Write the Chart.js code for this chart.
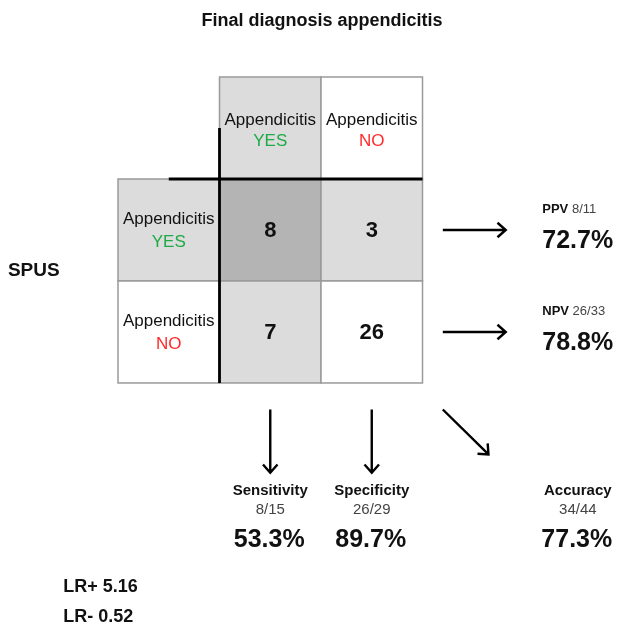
<!DOCTYPE html>
<html>
<head>
<meta charset="utf-8">
<script src="https://cdn.jsdelivr.net/npm/chart.js@4/dist/chart.umd.min.js"></script>
<style>
  body { margin: 0; background: #fff; }
  #box { width: 618px; height: 625px; }
</style>
</head>
<body>
<div id="box"><canvas id="myChart" width="618" height="625"></canvas></div>
<script>
// DATA
const title = 'Final diagnosis appendicitis';
const testName = 'SPUS';
const headerText = 'Appendicitis';
const classes = ['YES', 'NO'];
const counts = [
  [8, 3],   // SPUS YES : final YES, final NO
  [7, 26]   // SPUS NO  : final YES, final NO
];
const rowMetrics = ['PPV', 'NPV'];
const rowFractions = ['8/11', '26/33'];
const rowPercents = [72.7, 78.8];
const colMetrics = ['Sensitivity', 'Specificity', 'Accuracy'];
const colFractions = ['8/15', '26/29', '34/44'];
const colPercents = [53.3, 89.7, 77.3];
const lrLabels = ['LR+', 'LR-'];
const lrValues = [5.16, 0.52];

// colours
const lightGray = '#dcdcdc';
const darkGray = '#b4b4b4';
const borderGray = '#9a9a9a';
const yesColor = '#1eaa46';
const noColor = '#ff2a2a';
const FONT = '"Liberation Sans", Arial, Helvetica, sans-serif';

// one grid unit = one cell, row header is column -1, column header is row -1
const points = [];
counts.forEach((row, r) => {
  row.forEach((v, c) => points.push({ x: c + 0.5, y: r + 0.5, v: v }));
});

function cellFill(r, c) {
  if (r === 0 && c === 0) return darkGray;
  if (r === 0 || c === 0) return lightGray;
  return '#ffffff';
}

function arrow(ctx, x1, y1, x2, y2) {
  const a = Math.atan2(y2 - y1, x2 - x1);
  const h = 11;
  ctx.beginPath();
  ctx.moveTo(x1, y1);
  ctx.lineTo(x2, y2);
  ctx.moveTo(x2 - h * Math.cos(a - 0.72), y2 - h * Math.sin(a - 0.72));
  ctx.lineTo(x2, y2);
  ctx.lineTo(x2 - h * Math.cos(a + 0.72), y2 - h * Math.sin(a + 0.72));
  ctx.stroke();
}

const matrixPlugin = {
  id: 'matrixPlugin',
  beforeDatasetsDraw(chart) {
    const ctx = chart.ctx;
    const xs = chart.scales.x;
    const ys = chart.scales.y;
    const px = (u) => xs.getPixelForValue(u);
    const py = (v) => ys.getPixelForValue(v);

    ctx.save();
    // cells: column headers, row headers, counts
    function rect(c, r, fill) {
      const x0 = px(c), x1 = px(c + 1), y0 = py(r), y1 = py(r + 1);
      ctx.fillStyle = fill;
      ctx.fillRect(x0, y0, x1 - x0, y1 - y0);
      ctx.strokeStyle = borderGray;
      ctx.lineWidth = 1.5;
      ctx.strokeRect(x0, y0, x1 - x0, y1 - y0);
    }
    classes.forEach((cls, i) => {
      rect(i, -1, i === 0 ? lightGray : '#ffffff');
      rect(-1, i, i === 0 ? lightGray : '#ffffff');
    });
    counts.forEach((row, r) => {
      row.forEach((v, c) => rect(c, r, cellFill(r, c)));
    });

    // thick black separators
    ctx.strokeStyle = '#000';
    ctx.lineWidth = 2.8;
    ctx.beginPath();
    ctx.moveTo(px(0), py(-0.5));
    ctx.lineTo(px(0), py(classes.length));
    ctx.moveTo(px(-0.5), py(0));
    ctx.lineTo(px(classes.length), py(0));
    ctx.stroke();

    ctx.textAlign = 'center';
    ctx.textBaseline = 'middle';

    // header texts
    classes.forEach((cls, i) => {
      ctx.font = '17px ' + FONT;
      ctx.fillStyle = '#111';
      ctx.fillText(headerText, px(i + 0.5), py(-0.58));
      ctx.fillText(headerText, px(-0.5), py(i + 0.4));
      ctx.fillStyle = cls === 'YES' ? yesColor : noColor;
      ctx.fillText(cls, px(i + 0.5), py(-0.37));
      ctx.fillText(cls, px(-0.5), py(i + 0.62));
    });

    // counts
    ctx.fillStyle = '#111';
    ctx.font = 'bold 22px ' + FONT;
    chart.data.datasets[0].data.forEach((p) => {
      ctx.fillText(String(p.v), px(p.x), py(p.y) + 1);
    });

    // title and test name
    ctx.font = 'bold 18px ' + FONT;
    ctx.fillText(title, px(1.01), py(-1.55));
    ctx.textAlign = 'left';
    ctx.font = 'bold 19px ' + FONT;
    ctx.fillText(testName, px(-2.085), py(0.9));

    // arrows
    ctx.strokeStyle = '#000';
    ctx.lineWidth = 2.4;
    rowMetrics.forEach((m, i) => arrow(ctx, px(2.2), py(i + 0.5), px(2.82), py(i + 0.5)));
    [0, 1].forEach((c) => arrow(ctx, px(c + 0.5), py(2.26), px(c + 0.5), py(2.88)));
    arrow(ctx, px(2.2), py(2.26), px(2.65), py(2.7));

    // row metrics (PPV / NPV)
    rowMetrics.forEach((m, i) => {
      const x = px(3.18);
      ctx.textAlign = 'left';
      ctx.font = 'bold 13px ' + FONT;
      ctx.fillStyle = '#111';
      ctx.fillText(m, x, py(i + 0.3));
      const w = ctx.measureText(m + ' ').width;
      ctx.font = '13px ' + FONT;
      ctx.fillStyle = '#444';
      ctx.fillText(rowFractions[i], x + w, py(i + 0.3));
      ctx.font = 'bold 25px ' + FONT;
      ctx.fillStyle = '#111';
      ctx.fillText(rowPercents[i].toFixed(1) + '%', x, py(i + 0.61));
    });

    // column metrics (sensitivity, specificity, accuracy)
    const colCenters = [0.5, 1.5, 3.53];
    ctx.textAlign = 'center';
    colMetrics.forEach((m, i) => {
      const x = px(colCenters[i]);
      ctx.font = 'bold 15px ' + FONT;
      ctx.fillStyle = '#111';
      ctx.fillText(m, x, py(3.06));
      ctx.font = '15px ' + FONT;
      ctx.fillStyle = '#444';
      ctx.fillText(colFractions[i], x, py(3.245));
      ctx.font = 'bold 25px ' + FONT;
      ctx.fillStyle = '#111';
      ctx.fillText(colPercents[i].toFixed(1) + '%', x - 1, py(3.54));
    });

    // likelihood ratios
    ctx.textAlign = 'left';
    ctx.font = 'bold 18px ' + FONT;
    lrLabels.forEach((l, i) => {
      ctx.fillText(l + ' ' + lrValues[i].toFixed(2), px(-1.54), py(4.0 + i * 0.295));
    });
    ctx.restore();
  }
};

const config = {
  type: 'scatter',
  data: {
    datasets: [{
      label: 'counts',
      data: points,
      pointRadius: 0,
      pointHoverRadius: 0
    }]
  },
  options: {
    responsive: false,
    animation: false,
    devicePixelRatio: 1,
    layout: { padding: 0 },
    plugins: {
      legend: { display: false },
      tooltip: { enabled: false },
      title: { display: false }
    },
    scales: {
      x: { type: 'linear', min: -2.1626, max: 3.926, display: false },
      y: { type: 'linear', min: -1.755, max: 4.373, reverse: true, display: false }
    }
  },
  plugins: [matrixPlugin]
};

const myChart = new Chart(document.getElementById('myChart'), config);
</script>
</body>
</html>
